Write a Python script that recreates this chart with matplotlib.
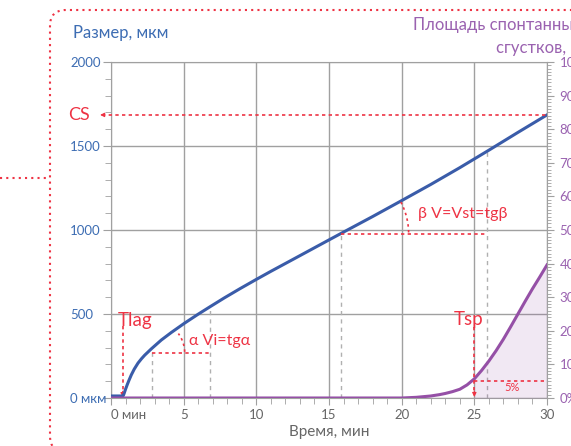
import numpy as np
import matplotlib.pyplot as plt
from matplotlib.patches import FancyBboxPatch
from matplotlib.lines import Line2D

plt.rcParams['font.family'] = ['Lato', 'Open Sans', 'DejaVu Sans']

# clot size, um
t_size = [0, 0.8, 0.85, 0.89, 1.0, 1.12, 1.25, 1.4, 1.6, 1.86, 2.1, 2.32, 2.78, 3.46, 4.15, 5.07,
          6, 6.81, 7.8, 8.88, 10, 11, 12.5, 15, 15.88, 18, 20, 22, 24, 26, 28, 30]
size = [12, 12, 15, 24, 52, 80, 108, 138, 172, 208, 234, 255, 293, 345, 390, 446,
        499, 543, 596, 651, 706, 754, 824, 941, 982, 1080, 1175, 1271, 1371, 1475, 1581, 1685]

# spontaneous clot area, %
t_area = [0, 20, 21, 22, 22.6, 23, 23.5, 24, 24.5, 25, 25.5, 26, 26.5, 27, 27.5, 28, 28.5, 29, 29.5, 30]
area = [0, 0, 0.2, 0.6, 1.0, 1.35, 1.9, 2.6, 3.9, 5.7, 8.2, 11.0, 14.1, 17.5, 21.2, 25, 28.8, 32.5, 36, 39.6]

x_ticks = [0, 5, 10, 15, 20, 25, 30]
x_labels = ['0 мин', '5', '10', '15', '20', '25', '30']
y_ticks = [0, 500, 1000, 1500, 2000]
y_labels = ['0 мкм', '500', '1000', '1500', '2000']
y2_ticks = [0, 10, 20, 30, 40, 50, 60, 70, 80, 90, 100]
y2_labels = ['0%', '10', '20', '30', '40', '50', '60', '70', '80', '90', '100']

t_lag = 0.8
t_sp = 25
cs = 1685
alpha_t = [2.8, 6.8]
alpha_y = 268
beta_t = [15.8, 25.9]

blue = '#3a5ca9'
blue_txt = '#3d6db3'
purple = '#9550a6'
purple_txt = '#9a62b0'
red = '#ee3344'
gray = '#a0a0a0'
txt_gray = '#666666'

W, H = 571, 446
fig = plt.figure(figsize=(W / 100, H / 100), dpi=100)
L, R, B, T = 111, 547, 398, 62
ax = fig.add_axes([L / W, 1 - B / H, (R - L) / W, (B - T) / H])
ax2 = ax.twinx()

ax.set_xlim(0, 30)
ax.set_ylim(0, 2000)
ax2.set_ylim(0, 100)

ax.grid(True, color=gray, lw=1)
ax.set_axisbelow(True)
for s in ['left', 'bottom', 'top']:
    ax.spines[s].set_color(gray)
ax.spines['right'].set_visible(False)
for s in ['left', 'bottom', 'top']:
    ax2.spines[s].set_visible(False)
ax2.spines['right'].set_color(gray)

ax.set_xticks(x_ticks, x_labels)
ax.set_xticks(np.arange(0, 31, 1), minor=True)
ax.set_yticks(y_ticks, y_labels)
ax.set_yticks(np.arange(0, 2001, 100), minor=True)
ax2.set_yticks(y2_ticks, y2_labels)
ax2.set_yticks(np.arange(0, 101, 1), minor=True)

ax.tick_params(axis='x', which='major', length=5, color=gray, labelcolor=txt_gray, labelsize=9.5, pad=3)
ax.tick_params(axis='x', which='minor', length=4, color=gray)
ax.tick_params(axis='y', which='major', length=6, color=gray, labelcolor=blue_txt, labelsize=9.5, pad=23.5)
ax.tick_params(axis='y', which='minor', length=4, color=gray)
ax2.tick_params(axis='y', which='major', length=5, color=gray, labelcolor=purple_txt, labelsize=9.5, pad=4)
ax2.tick_params(axis='y', which='minor', length=3, color=gray, width=0.6)
plt.setp(ax.get_yticklabels(), ha='left')
ax.get_xticklabels()[0].set_ha('left')

ax.set_xlabel('Время, мин', color=txt_gray, fontsize=11, labelpad=3)

# curves
ax.plot(t_size, size, color=blue, lw=2.2, zorder=5, solid_joinstyle='round')
ax2.plot(t_area, area, color=purple, lw=2.2, zorder=5, solid_joinstyle='round')
ta = np.array(t_area, dtype=float)
mask = ta >= t_sp
ax2.fill_between(ta[mask], 0, np.array(area)[mask], color=purple, alpha=0.13, lw=0, zorder=1)

sx = (R - L) / 30
sy = (B - T) / 2000
dash = (0, (2, 2))


def head(a, xy, frm):
    a.annotate('', xy=xy, xytext=frm,
               arrowprops=dict(arrowstyle='-|>', color=red, lw=0.8, mutation_scale=6,
                               shrinkA=0, shrinkB=0), annotation_clip=False)


def arc(x0, y0, r, a1, a2):
    th = np.radians(np.linspace(a1, a2, 30))
    ax.plot(x0 + r / sx * np.cos(th), y0 + r / sy * np.sin(th), color=red, lw=1.2,
            ls=(0, (1.5, 2)), zorder=6)


# gray verticals
for tv in alpha_t + beta_t:
    ax.plot([tv, tv], [0, np.interp(tv, t_size, size)], color='#b0b0b0', lw=1,
            ls=(0, (3, 3)), zorder=3)

# alpha
ax.plot(alpha_t, [alpha_y, alpha_y], color=red, lw=1.2, ls=dash, zorder=6)
arc(alpha_t[0], alpha_y, 33, 2, 36)
ax.text(5.4, 339, 'α Vi=tgα', color=red, fontsize=11.5, va='center', ha='left')

# beta
yb = np.interp(beta_t[0], t_size, size)
ax.plot(beta_t, [yb, yb], color=red, lw=1.2, ls=dash, zorder=6)
arc(beta_t[0], yb, 68, 1, 28)
ax.text(21.1, 1095, 'β V=Vst=tgβ', color=red, fontsize=11.5, va='center', ha='left')

# CS
ax.plot([-0.6, 30], [cs, cs], color=red, lw=1.2, ls=dash, clip_on=False, zorder=6)
head(ax, (-0.75, cs), (-0.5, cs))
ax.text(-1.45, cs, 'CS', color=red, fontsize=13, va='center', ha='right')

# Tlag
ax.plot([t_lag, t_lag], [430, 30], color=red, lw=1.2, ls=dash, zorder=6)
head(ax, (t_lag, 5), (t_lag, 40))
ax.text(0.45, 462, 'Tlag', color=red, fontsize=13.5, va='center', ha='left')

# Tsp
ax2.plot([t_sp, t_sp], [21, 1.5], color=red, lw=1.2, ls=dash, zorder=6)
head(ax2, (t_sp, 0.3), (t_sp, 2))
ax2.text(24.6, 23.3, 'Tsp', color=red, fontsize=13.5, va='center', ha='center')
ax2.plot([t_sp, 30], [5, 5], color=red, lw=1.2, ls=dash, zorder=6)
ax2.text(27.6, 3.2, '5%', color=red, fontsize=8, va='center', ha='center')

# titles
fig.text(73 / W, 1 - 33 / H, 'Размер, мкм', color=blue_txt, fontsize=12, va='center', ha='left')
fig.text(413 / W, 1 - 25 / H, 'Площадь спонтанных', color=purple_txt, fontsize=12, va='center', ha='left')
fig.text(496 / W, 1 - 48 / H, 'сгустков, %', color=purple_txt, fontsize=12, va='center', ha='left')

# dotted frame
frame = FancyBboxPatch((0.50, -0.06), 7.0, 4.42, boxstyle='round,pad=0,rounding_size=0.16',
                       transform=fig.dpi_scale_trans, fill=False, edgecolor=red,
                       lw=1.5, ls=(0, (1, 2)))
fig.add_artist(frame)
fig.add_artist(Line2D([0, 50 / W], [1 - 178 / H, 1 - 178 / H], transform=fig.transFigure,
                      color=red, lw=1.5, ls=(0, (1, 2))))

fig.savefig('out.png', dpi=100)
